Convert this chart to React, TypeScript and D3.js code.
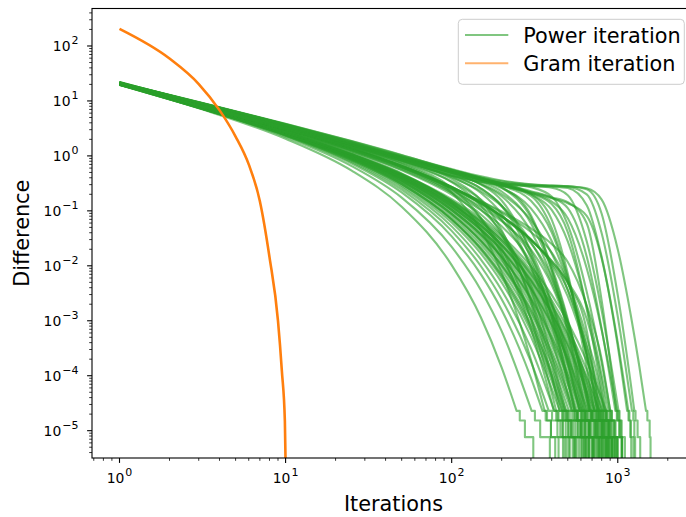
import React from "react";
import * as d3 from "d3";

// Gram iteration (same curve for every run)
const gramIters = [1, 2, 3, 4, 5, 6, 7, 8, 9, 9.5, 9.9, 10];
const gramDiff = [204, 59, 20.3, 6.8, 2.25, 0.7, 0.15, 0.0144, 1.0e-3, 1.2e-4, 1.5e-5, 0];

// Power iteration runs: difference read at these iterations (while above the float floor)
const powerIters = [1, 3, 10, 25, 50, 100, 150, 200, 300, 400, 500, 650, 800, 1000, 1200, 1350];
// float32 floor: the runs step down through these levels before hitting 0
const floorLevels = [2.29e-5, 1.53e-5, 7.63e-6, 0];

// [values at powerIters, iterations where each floor level is reached]
const powerRuns: [number[], number[]][] = [
  // runs that converge steadily
  [[20.2, 7.38, 2.05, 0.539, 0.119, 0.0103, 1.15e-3, 1.41e-4], [246, 257, 276, 310]],
  [[20.4, 7.55, 2.21, 0.652, 0.174, 0.0221, 3.6e-3, 6.48e-4], [303, 317, 341, 390]],
  [[20.5, 7.65, 2.31, 0.728, 0.217, 0.0344, 6.99e-3, 1.57e-3, 9.1e-5], [352, 368, 396, 440]],
  [[20.5, 7.7, 2.37, 0.771, 0.243, 0.0432, 9.82e-3, 2.47e-3, 1.8e-4], [384, 402, 433, 468]],
  [[20.6, 7.75, 2.41, 0.808, 0.267, 0.0522, 0.013, 3.6e-3, 3.18e-4], [415, 434, 468, 507]],
  [[20.6, 7.78, 2.45, 0.841, 0.289, 0.0612, 0.0166, 4.97e-3, 5.14e-4, 5.9e-5], [447, 468, 504, 546]],
  [[21.6, 8.18, 2.59, 0.899, 0.314, 0.0688, 0.0193, 5.99e-3, 6.63e-4, 8.1e-5], [465, 487, 525, 566]],
  [[20.6, 7.81, 2.48, 0.871, 0.309, 0.0702, 0.0204, 6.54e-3, 7.75e-4, 1.02e-4], [478, 500, 539, 585]],
  [[19.6, 7.44, 2.37, 0.84, 0.303, 0.0708, 0.0212, 6.99e-3, 8.81e-4, 1.23e-4], [491, 514, 555, 602]],
  [[20.7, 7.85, 2.51, 0.897, 0.329, 0.0791, 0.0244, 8.29e-3, 1.11e-3, 1.64e-4], [508, 532, 574, 623]],
  [[21.7, 8.25, 2.65, 0.953, 0.354, 0.0875, 0.0277, 9.66e-3, 1.37e-3, 2.12e-4], [527, 552, 595, 645]],
  [[20.7, 7.87, 2.54, 0.92, 0.346, 0.0878, 0.0285, 0.0102, 1.52e-3, 2.48e-4, 4.3e-5], [540, 566, 611, 662]],
  [[19.7, 7.49, 2.43, 0.884, 0.336, 0.0874, 0.029, 0.0106, 1.65e-3, 2.84e-4, 5.1e-5], [552, 578, 624, 678]],
  [[20.7, 7.89, 2.57, 0.942, 0.362, 0.0963, 0.0327, 0.0123, 2.0e-3, 3.6e-4, 6.8e-5], [571, 598, 646, 701]],
  [[21.7, 8.3, 2.71, 1.0, 0.389, 0.105, 0.0365, 0.0141, 2.37e-3, 4.44e-4, 8.8e-5], [589, 617, 666, 723]],
  [[20.7, 7.91, 2.59, 0.962, 0.378, 0.1045, 0.037, 0.0145, 2.55e-3, 4.98e-4, 1.03e-4], [601, 630, 680, 738]],
  [[19.7, 7.52, 2.47, 0.922, 0.365, 0.103, 0.0371, 0.0148, 2.7e-3, 5.48e-4, 1.17e-4], [611, 641, 693, 753]],
  [[20.7, 7.93, 2.6, 0.979, 0.391, 0.1124, 0.0413, 0.0167, 3.18e-3, 6.68e-4, 1.48e-4], [631, 661, 714, 776]],
  [[21.7, 8.33, 2.74, 1.04, 0.418, 0.122, 0.0456, 0.0188, 3.69e-3, 8.0e-4, 1.84e-4], [650, 681, 736, 800]],
  [[20.7, 7.94, 2.62, 0.996, 0.405, 0.12, 0.0455, 0.0191, 3.87e-3, 8.69e-4, 2.06e-4], [660, 692, 748, 813]],
  [[19.7, 7.55, 2.5, 0.953, 0.39, 0.117, 0.0452, 0.0193, 4.02e-3, 9.29e-4, 2.27e-4], [671, 704, 761, 827]],
  [[20.8, 7.96, 2.64, 1.01, 0.417, 0.127, 0.0498, 0.0215, 4.63e-3, 1.1e-3, 2.77e-4, 3.7e-5], [690, 724, 783, 851]],
  [[21.8, 8.36, 2.78, 1.07, 0.443, 0.137, 0.0545, 0.0238, 5.27e-3, 1.29e-3, 3.33e-4, 4.65e-5], [709, 743, 803, 874]],
  [[20.8, 7.97, 2.65, 1.02, 0.428, 0.1345, 0.054, 0.0239, 5.44e-3, 1.37e-3, 3.63e-4, 5.3e-5], [721, 756, 818, 889]],
  [[19.8, 7.58, 2.52, 0.979, 0.411, 0.131, 0.0533, 0.0238, 5.57e-3, 1.43e-3, 3.9e-4, 5.9e-5], [730, 766, 829, 902]],
  [[20.8, 7.98, 2.66, 1.04, 0.439, 0.141, 0.0582, 0.0264, 6.31e-3, 1.67e-3, 4.65e-4, 7.3e-5], [750, 787, 851, 925]],
  [[21.8, 8.39, 2.8, 1.1, 0.466, 0.152, 0.0632, 0.0291, 7.09e-3, 1.92e-3, 5.47e-4, 8.9e-5], [769, 807, 873, 948]],
  [[20.8, 8.0, 2.68, 1.05, 0.449, 0.148, 0.0622, 0.029, 7.23e-3, 2.0e-3, 5.83e-4, 9.8e-5], [780, 818, 885, 963]],
  [[20.8, 8.0, 2.69, 1.06, 0.458, 0.154, 0.0663, 0.0315, 8.19e-3, 2.36e-3, 7.18e-4, 1.29e-4], [809, 849, 919, 1000]],
  [[20.8, 8.02, 2.7, 1.07, 0.471, 0.163, 0.0722, 0.0352, 9.72e-3, 2.96e-3, 9.54e-4, 1.86e-4, 3.8e-5], [853, 895, 970, 1055]],
  // slower start, then a late drop
  [[21.1, 8.58, 3.11, 1.33, 0.62, 0.2127, 0.0734, 0.0207, 1.07e-3, 4.88e-5], [426, 440, 464, 492]],
  [[21.1, 8.6, 3.13, 1.34, 0.644, 0.245, 0.1054, 0.0411, 3.63e-3, 2.24e-4], [485, 500, 526, 556]],
  [[21.1, 8.6, 3.14, 1.355, 0.658, 0.265, 0.1318, 0.0683, 0.01504, 1.957e-3, 1.82e-4], [589, 606, 636, 670]],
  [[21.1, 8.6, 3.14, 1.36, 0.664, 0.272, 0.1403, 0.0787, 0.02574, 6.12e-3, 7.33e-4], [639, 655, 683, 715]],
  [[21.1, 8.6, 3.14, 1.36, 0.664, 0.273, 0.1417, 0.0805, 0.02945, 0.0113, 3.66e-3, 2.48e-4], [752, 769, 799, 833]],
  [[21.1, 8.6, 3.14, 1.36, 0.664, 0.273, 0.1417, 0.0807, 0.0299, 0.01215, 5.07e-3, 1.087e-3, 7.76e-5], [852, 869, 899, 933]],
  [[20.95, 8.31, 2.9, 1.198, 0.547, 0.198, 0.0857, 0.0357, 4.33e-3, 4.42e-4, 4.6e-5], [529, 546, 574, 610]],
  [[20.95, 8.34, 2.95, 1.245, 0.591, 0.235, 0.118, 0.0647, 0.0197, 4.5e-3, 7.71e-4, 4.9e-5], [680, 700, 735, 775]],
  [[21.0, 8.37, 2.98, 1.275, 0.622, 0.26, 0.138, 0.0803, 0.0304, 0.01069, 2.77e-3, 2.57e-4], [790, 810, 845, 885]],
  [[20.5, 8.09, 2.8, 1.12, 0.48, 0.143, 0.0455, 0.01352, 1.12e-3, 9.75e-5], [461, 476, 503, 535]],
  [[21.1, 8.68, 3.15, 1.35, 0.646, 0.268, 0.149, 0.0921, 0.0413, 0.01743, 5.07e-3, 4.97e-4, 4.1e-5], [825, 845, 880, 920]],
  [[20.95, 8.32, 2.92, 1.217, 0.565, 0.215, 0.1028, 0.0525, 0.01126, 1.438e-3, 1.6e-4], [590, 606, 634, 668]],
  [[21.3, 8.52, 3.02, 1.29, 0.625, 0.258, 0.135, 0.0779, 0.0297, 0.0123, 4.8e-3, 6.65e-4], [770, 790, 825, 870]],
  [[21.0, 8.63, 3.11, 1.31, 0.62, 0.26, 0.15, 0.0972, 0.048, 0.025, 0.01177, 1.9e-3, 2.0e-4], [900, 920, 955, 995]],
  // runs that hold a shoulder before dropping
  [[19.7, 8.15, 3.07, 1.41, 0.736, 0.261, 0.0732, 0.01634, 7.15e-4, 3.27e-5], [412, 426, 451, 480]],
  [[20.4, 8.42, 3.19, 1.49, 0.796, 0.334, 0.1245, 0.0368, 2.45e-3, 1.61e-4], [475, 491, 519, 551]],
  [[19.7, 8.17, 3.11, 1.47, 0.816, 0.382, 0.156, 0.0443, 2.14e-3, 9.86e-5], [447, 461, 486, 514]],
  [[20.4, 8.43, 3.21, 1.52, 0.842, 0.416, 0.211, 0.088, 9.32e-3, 8.36e-4, 7.58e-5], [554, 572, 604, 640]],
  [[21.2, 8.78, 3.34, 1.58, 0.886, 0.455, 0.255, 0.126, 0.0189, 2.19e-3, 2.51e-4], [617, 637, 672, 712]],
  [[21.2, 8.8, 3.35, 1.6, 0.911, 0.495, 0.301, 0.154, 0.01688, 1.19e-3, 8.19e-5], [550, 566, 594, 626]],
  [[21.2, 8.8, 3.35, 1.59, 0.903, 0.487, 0.306, 0.184, 0.0426, 6.54e-3, 9.16e-4, 4.87e-5], [692, 714, 753, 797]],
  [[21.2, 8.8, 3.35, 1.6, 0.917, 0.51, 0.341, 0.225, 0.0598, 8.4e-3, 9.9e-4, 4.02e-5], [678, 698, 733, 773]],
  [[21.2, 8.8, 3.36, 1.61, 0.924, 0.526, 0.371, 0.27, 0.0834, 8.34e-3, 5.98e-4], [625, 641, 669, 701]],
  [[21.2, 8.8, 3.36, 1.61, 0.919, 0.517, 0.358, 0.259, 0.111, 0.0282, 5.1e-3, 3.51e-4], [804, 828, 870, 918]],
  [[21.2, 8.8, 3.36, 1.61, 0.924, 0.528, 0.377, 0.289, 0.1525, 0.0407, 5.77e-3, 2.41e-4], [768, 788, 823, 863]],
  [[22.0, 9.15, 3.49, 1.67, 0.964, 0.552, 0.399, 0.315, 0.203, 0.0691, 7.25e-3, 1.45e-4], [724, 740, 768, 800]],
  [[21.2, 8.8, 3.36, 1.61, 0.927, 0.532, 0.382, 0.3, 0.199, 0.1038, 0.0278, 1.79e-3, 1.01e-4], [881, 903, 942, 986]],
  [[20.4, 8.45, 3.23, 1.55, 0.89, 0.511, 0.37, 0.293, 0.206, 0.133, 0.0411, 1.65e-3, 5.07e-5], [836, 854, 886, 922]],
  [[21.2, 8.8, 3.36, 1.61, 0.927, 0.532, 0.385, 0.306, 0.213, 0.148, 0.0735, 9.03e-3, 6.76e-4], [990, 1014, 1056, 1104]],
  [[22.0, 9.15, 3.49, 1.67, 0.964, 0.553, 0.4, 0.318, 0.228, 0.174, 0.1117, 0.01475, 7.03e-4], [967, 987, 1022, 1062]],
  [[21.2, 8.8, 3.36, 1.61, 0.927, 0.532, 0.385, 0.306, 0.221, 0.1757, 0.1436, 0.0595, 2.32e-3], [980, 996, 1024, 1056]],
  [[20.4, 8.45, 3.23, 1.55, 0.89, 0.511, 0.37, 0.294, 0.212, 0.169, 0.1375, 0.0814, 0.01354, 3.46e-4], [1138, 1160, 1199, 1243]],
  [[19.7, 8.15, 3.07, 1.41, 0.716, 0.217, 0.0448, 7.45e-3, 1.96e-4], [363, 375, 396, 420]],
  [[19.7, 8.15, 3.07, 1.42, 0.764, 0.342, 0.1606, 0.0681, 9.77e-3, 1.31e-3, 1.79e-4], [608, 630, 668, 712]],
  [[20.4, 8.42, 3.19, 1.5, 0.825, 0.409, 0.228, 0.122, 0.0272, 5.13e-3, 9.39e-4, 7.61e-5], [728, 754, 799, 851]],
  [[21.2, 8.8, 3.34, 1.59, 0.897, 0.484, 0.311, 0.202, 0.068, 0.01677, 3.61e-3, 3.5e-4, 3.49e-5], [829, 857, 906, 962]],
  // runs that sit on the ~0.28 plateau before converging
  [[21.5, 9.5, 3.8, 1.84, 1.03, 0.576, 0.424, 0.356, 0.305, 0.29, 0.281, 0.257, 0.16, 0.0199, 1.22e-3, 1.44e-4], [1479, 1507, 1556, 1575]],
  [[21.2, 9.4, 3.75, 1.8, 1.0, 0.56, 0.41, 0.345, 0.3, 0.288, 0.282, 0.248, 0.0884, 2.93e-3, 6.8e-5], [1258, 1279, 1316, 1365]],
  [[21.3, 9.4, 3.7, 1.73, 0.93, 0.5, 0.375, 0.324, 0.29, 0.281, 0.273, 0.2, 0.0391, 1.19e-3], [1218, 1240, 1258, 1272]],
  [[21.0, 9.3, 3.65, 1.7, 0.9, 0.49, 0.37, 0.32, 0.286, 0.278, 0.26, 0.127, 0.0145, 4.0e-4], [1158, 1175, 1190, 1205]],
  [[21.2, 9.3, 3.59, 1.62, 0.84, 0.44, 0.34, 0.3, 0.281, 0.264, 0.193, 0.0279, 1.54e-3], [1011, 1025, 1043, 1062]],
  [[21.4, 9.45, 3.72, 1.75, 0.95, 0.51, 0.38, 0.321, 0.27, 0.182, 0.0553, 3.39e-3, 1.71e-4], [901, 921, 956, 985]],
  [[21.0, 9.2, 3.55, 1.6, 0.83, 0.437, 0.334, 0.287, 0.187, 0.0488, 6.26e-3, 2.28e-4], [754, 772, 803, 850]],
  [[21.6, 9.55, 3.85, 1.86, 1.04, 0.556, 0.382, 0.268, 0.0756, 9.66e-3, 1.08e-3], [674, 692, 723, 760]],
  [[21.3, 9.4, 3.69, 1.71, 0.896, 0.44, 0.255, 0.122, 0.0137, 1.15e-3, 9.4e-5], [557, 573, 601, 640]],
];

const legendItems = ["Power iteration", "Gram iteration"];

const W = 686;
const H = 517;
const left = 92;
const right = 695; // right spine sits just past the picture edge
const top = 8.5;
const bottom = 458;
const font = "'DejaVu Sans', sans-serif";
const green = "#2ca02c";
const orange = "#ff7f0e";

const xScale = d3.scaleLog().domain([0.683, 2917]).range([left, right]);
const yScale = d3.scaleLog().domain([3.184e-6, 480.8]).range([bottom, top]);

const yOf = (v: number) => (v > 0 ? yScale(v) : bottom + 6);
const smooth = d3.line<[number, number]>().curve(d3.curveMonotoneX);
const steps = d3.line<[number, number]>().curve(d3.curveStepAfter);

function runPath(values: number[], floorIters: number[]) {
  const pts: [number, number][] = values.map((v, i) => [xScale(powerIters[i]), yScale(v)]);
  pts.push([xScale(floorIters[0]), yScale(floorLevels[0])]);
  const tail: [number, number][] = floorIters.map((k, i) => [xScale(k), yOf(floorLevels[i])]);
  return (smooth(pts) || "") + (steps(tail) || "").replace(/^M/, "L");
}

const isMajor = (t: number) => Math.abs(Math.log10(t) - Math.round(Math.log10(t))) < 1e-6;
const expText = (t: number) => {
  const e = Math.round(Math.log10(t));
  return e < 0 ? "\u2212" + Math.abs(e) : String(e);
};

function TickLabel({ x, y, t, anchor }: { x: number; y: number; t: number; anchor: string }) {
  return (
    <text x={x} y={y} textAnchor={anchor} fontFamily={font} fontSize={13.9} fill="#000">
      <tspan>10</tspan>
      <tspan dx={1} dy={-7} fontSize={11}>{expText(t)}</tspan>
    </text>
  );
}

export default function App() {
  const xTicks = xScale.ticks().filter((t) => t >= 0.683 && t <= 2917);
  const yTicks = yScale.ticks().filter((t) => t >= 3.184e-6 && t <= 480.8);
  const gramPts: [number, number][] = gramIters.map((k, i) => [xScale(k), yOf(gramDiff[i])]);

  return (
    <svg
      width={W}
      height={H}
      style={{ position: "absolute", left: 0, top: 0, background: "#fff", display: "block" }}
    >
      <defs>
        <clipPath id="plot">
          <rect x={left} y={top} width={right - left} height={bottom - top} />
        </clipPath>
      </defs>

      <g clipPath="url(#plot)" fill="none" strokeLinejoin="round">
        {powerRuns.map(([vals, fl], i) => (
          <path key={i} d={runPath(vals, fl)} stroke={green} strokeOpacity={0.6} strokeWidth={2.1} />
        ))}
        <path d={smooth(gramPts) || ""} stroke={orange} strokeWidth={2.6} />
      </g>

      {/* x ticks */}
      {xTicks.map((t, i) => (
        <g key={"x" + i}>
          <line
            x1={xScale(t)}
            x2={xScale(t)}
            y1={bottom}
            y2={bottom + (isMajor(t) ? 4.9 : 2.8)}
            stroke="#000"
            strokeWidth={isMajor(t) ? 1.1 : 0.8}
          />
          {isMajor(t) && <TickLabel x={xScale(t)} y={483.3} t={t} anchor="middle" />}
        </g>
      ))}

      {/* y ticks */}
      {yTicks.map((t, i) => (
        <g key={"y" + i}>
          <line
            x1={left}
            x2={left - (isMajor(t) ? 4.9 : 2.8)}
            y1={yScale(t)}
            y2={yScale(t)}
            stroke="#000"
            strokeWidth={isMajor(t) ? 1.1 : 0.8}
          />
          {isMajor(t) && <TickLabel x={78.5} y={yScale(t) + 5.3} t={t} anchor="end" />}
        </g>
      ))}

      <rect x={left} y={top} width={right - left} height={bottom - top} fill="none" stroke="#000" strokeWidth={1.1} />

      <text x={(left + right) / 2} y={511} textAnchor="middle" fontFamily={font} fontSize={20.8} fill="#000">
        Iterations
      </text>
      <text
        transform={`translate(29.3, ${(top + bottom) / 2}) rotate(-90)`}
        textAnchor="middle"
        fontFamily={font}
        fontSize={20.8}
        fill="#000"
      >
        Difference
      </text>

      {/* legend */}
      <g>
        <rect x={458.3} y={19.3} width={226} height={65} rx={4} fill="#fff" fillOpacity={0.8} stroke="#cccccc" strokeWidth={1} />
        {legendItems.map((name, i) => (
          <g key={name}>
            <line
              x1={465}
              x2={508.3}
              y1={35 + i * 28.3}
              y2={35 + i * 28.3}
              stroke={i === 0 ? green : orange}
              strokeOpacity={0.6}
              strokeWidth={2.1}
            />
            <text x={523.3} y={42.6 + i * 28.3} fontFamily={font} fontSize={20.8} fill="#000">
              {name}
            </text>
          </g>
        ))}
      </g>
    </svg>
  );
}
